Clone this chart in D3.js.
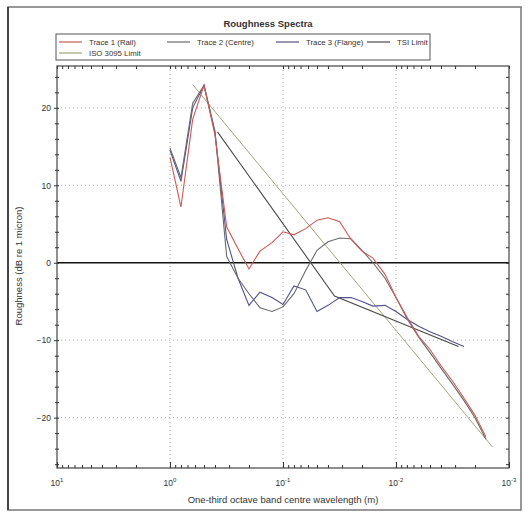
<!DOCTYPE html>
<html>
<head>
<meta charset="utf-8">
<script src="https://cdnjs.cloudflare.com/ajax/libs/d3/7.8.5/d3.min.js"></script>
<style>
  body { margin: 0; background: #fff; }
  text { font-family: "Liberation Sans", Arial, sans-serif; fill: #333; }
</style>
</head>
<body>
<div id="chart"></div>
<script>
// one-third octave band centre wavelengths (m)
var bands = [1, 0.8, 0.63, 0.5, 0.4, 0.315, 0.25, 0.2, 0.16, 0.125, 0.1, 0.08, 0.063, 0.05, 0.04,
  0.0315, 0.025, 0.02, 0.016, 0.0125, 0.01, 0.008, 0.0063, 0.005, 0.004, 0.00315, 0.0025, 0.002, 0.0016];

var trace1 = [13.6, 7.2, 18.5, 22.9, 16.5, 4.6, 1.8, -0.8, 1.5, 2.6, 4.0, 3.6, 4.4, 5.5, 5.8,
  5.3, 3.0, 1.5, 0.6, -1.5, -4.5, -7, -9.5, -11.2, -13.3, -15.3, -17.5, -19.7, -22.5];
var trace2 = [14.8, 11, 20.6, 22.9, 17, 0.8, -2, -4, -5.8, -6.3, -5.7, -4, -1, 1.6, 2.7,
  3.2, 3.1, 1.6, 0, -2, -4.5, -7.2, -9.6, -11.6, -13.6, -15.7, -17.8, -20, -22.8];
var trace3 = [14.5, 10.5, 20, 22.9, 16.8, 3, -2, -5.5, -3.8, -4.5, -5.4, -3, -3.5, -6.3, -5.5,
  -4.5, -4.5, -5, -5.6, -5.5, -6.3, -7.3, -8.2, -8.9, -9.5, -10.2, -10.8];

var tsiBands = [0.38, 0.035, 0.0028];
var tsiLimit = [16.9, -4.3, -10.8];
var isoBands = [0.63, 0.0014];
var isoLimit = [23, -23.8];

var yTicks = [-20, -10, 0, 10, 20];
var xTicks = [10, 1, 0.1, 0.01, 0.001];
var xTickLabels = ["1", "0", "-1", "-2", "-3"];

var series = [
  {name: "Trace 1 (Rail)", x: bands, y: trace1, color: "#cc5a55", w: 1.1},
  {name: "Trace 2 (Centre)", x: bands, y: trace2, color: "#6b6b6b", w: 1.1},
  {name: "Trace 3 (Flange)", x: bands, y: trace3, color: "#52528e", w: 1.1},
  {name: "TSI Limit", x: tsiBands, y: tsiLimit, color: "#4a4a4a", w: 1.1},
  {name: "ISO 3095 Limit", x: isoBands, y: isoLimit, color: "#a3a37c", w: 1}
];

var W = 530, H = 515;
var pLeft = 57, pRight = 509, pTop = 66, pBottom = 468;

var svg = d3.select("#chart").append("svg")
  .attr("width", W).attr("height", H);

// outer frame
svg.append("rect").attr("x", 8).attr("y", 7).attr("width", 513).attr("height", 503)
  .attr("fill", "#fff").attr("stroke", "#777").attr("stroke-width", 1.5);
svg.append("line").attr("x1", 8).attr("x2", 8).attr("y1", 7).attr("y2", 510)
  .attr("stroke", "#444").attr("stroke-width", 2);

var x = d3.scaleLog().domain([10, 0.001]).range([pLeft, pRight]);
var y = d3.scaleLinear().domain([-26.5, 25.4]).range([pBottom, pTop]);

// title
svg.append("text").attr("x", 268).attr("y", 27).attr("text-anchor", "middle")
  .style("font-size", "9.5px").style("font-weight", "bold").text("Roughness Spectra");

// legend
svg.append("rect").attr("x", 56).attr("y", 34).attr("width", 374).attr("height", 26)
  .attr("fill", "#fff").attr("stroke", "#555").attr("stroke-width", 1);
var legPos = [[59, 42], [167, 42], [276, 42], [367, 42], [59, 53]];
series.forEach(function(s, i) {
  var p = legPos[i];
  svg.append("line").attr("x1", p[0]).attr("x2", p[0] + 23).attr("y1", p[1]).attr("y2", p[1])
    .attr("stroke", s.color).attr("stroke-width", 1.2);
  svg.append("text").attr("x", p[0] + 30).attr("y", p[1] + 3)
    .style("font-size", "7.8px").text(s.name);
});

var g = svg.append("g");

// grid
xTicks.slice(1, -1).forEach(function(t) {
  g.append("line").attr("x1", x(t)).attr("x2", x(t)).attr("y1", pTop).attr("y2", pBottom)
    .attr("stroke", "#aaa").attr("stroke-dasharray", "1,3");
});
yTicks.forEach(function(t) {
  if (t === 0) return;
  g.append("line").attr("x1", pLeft).attr("x2", pRight).attr("y1", y(t)).attr("y2", y(t))
    .attr("stroke", "#aaa").attr("stroke-dasharray", "1,3");
});

// zero line
g.append("line").attr("x1", pLeft).attr("x2", pRight).attr("y1", y(0)).attr("y2", y(0))
  .attr("stroke", "#111").attr("stroke-width", 1.6);

// plot box
g.append("rect").attr("x", pLeft).attr("y", pTop).attr("width", pRight - pLeft).attr("height", pBottom - pTop)
  .attr("fill", "none").attr("stroke", "#444").attr("stroke-width", 1.2);

// axes
var xMinor = [];
[1, 0.1, 0.01, 0.001].forEach(function(d) {
  for (var k = 2; k <= 9; k++) xMinor.push(d * k);
});
var yMinor = d3.range(-26, 26, 2).filter(function(v) { return v % 10 !== 0; });

g.append("g").attr("transform", "translate(0," + pBottom + ")")
  .call(d3.axisBottom(x).tickValues(xTicks).tickSize(-6).tickFormat(""));
g.append("g").attr("transform", "translate(0," + pBottom + ")")
  .call(d3.axisBottom(x).tickValues(xMinor).tickSize(-3).tickFormat(""));
g.append("g").attr("transform", "translate(0," + pTop + ")")
  .call(d3.axisTop(x).tickValues(xTicks.concat(xMinor)).tickSize(-3).tickFormat(""));
var yAxis = g.append("g").attr("transform", "translate(" + pLeft + ",0)")
  .call(d3.axisLeft(y).tickValues(yTicks).tickSize(3).tickFormat(d3.format("d")));
g.append("g").attr("transform", "translate(" + pLeft + ",0)")
  .call(d3.axisLeft(y).tickValues(yMinor).tickSize(2).tickFormat(""));
g.append("g").attr("transform", "translate(" + pLeft + ",0)")
  .call(d3.axisRight(y).tickValues(yTicks.concat(yMinor)).tickSize(2).tickFormat(""));
g.append("g").attr("transform", "translate(" + pRight + ",0)")
  .call(d3.axisLeft(y).tickValues(yTicks.concat(yMinor)).tickSize(3).tickFormat(""));

g.selectAll(".domain").remove();
g.selectAll(".tick line").attr("stroke", "#333");
yAxis.selectAll("text").style("font-size", "8.5px").attr("fill", "#333")
  .style("font-family", "Liberation Sans, Arial, sans-serif");

// x tick labels as powers of ten
xTicks.forEach(function(t, i) {
  var lab = svg.append("text").attr("x", x(t)).attr("y", pBottom + 18)
    .attr("text-anchor", "middle").style("font-size", "8.5px");
  lab.append("tspan").text("10");
  lab.append("tspan").attr("dy", -4).style("font-size", "6px").text(xTickLabels[i]);
});

// axis titles
svg.append("text").attr("x", 283).attr("y", 503).attr("text-anchor", "middle")
  .style("font-size", "9.5px").text("One-third octave band centre wavelength (m)");
svg.append("text").attr("transform", "translate(22,266) rotate(-90)")
  .attr("text-anchor", "middle").style("font-size", "9.5px").text("Roughness (dB re 1 micron)");

// lines
var line = d3.line()
  .x(function(d) { return x(d[0]); })
  .y(function(d) { return y(d[1]); });

series.slice().reverse().forEach(function(s) {
  var pts = s.y.map(function(v, i) { return [s.x[i], v]; });
  g.append("path").datum(pts)
    .attr("d", line)
    .attr("fill", "none")
    .attr("stroke", s.color)
    .attr("stroke-width", s.w);
});
</script>
</body>
</html>
